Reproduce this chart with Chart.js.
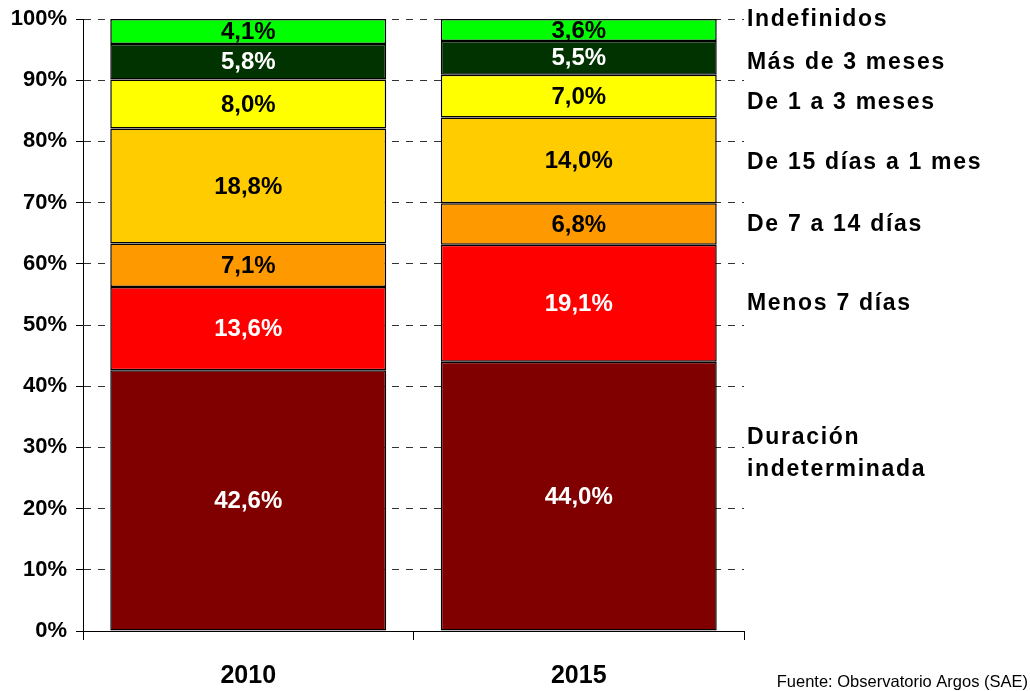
<!DOCTYPE html>
<html lang="es">
<head>
<meta charset="utf-8">
<title>Duración de los contratos 2010 - 2015</title>
<script src="https://cdn.jsdelivr.net/npm/chart.js@4.4.1/dist/chart.umd.min.js"></script>
<style>
  html, body { margin: 0; padding: 0; background: #fff; }
</style>
</head>
<body>
<canvas id="chart" width="1030" height="691"></canvas>
<script>
/* ── Data ─────────────────────────────────────────────── */
const YEARS = ['2010', '2015'];

const DURACION_INDETERMINADA = [42.6, 44.0];
const MENOS_7_DIAS           = [13.6, 19.1];
const DE_7_A_14_DIAS         = [7.1, 6.8];
const DE_15_DIAS_A_1_MES     = [18.8, 14.0];
const DE_1_A_3_MESES         = [8.0, 7.0];
const MAS_DE_3_MESES         = [5.8, 5.5];
const INDEFINIDOS            = [4.1, 3.6];

const Y_TICKS = [0, 10, 20, 30, 40, 50, 60, 70, 80, 90, 100];
const SOURCE  = 'Fuente: Observatorio Argos (SAE)';

/* ── Defaults ─────────────────────────────────────────── */
const FONT = "'Liberation Sans', Arial, sans-serif";
Chart.defaults.font.family = FONT;
Chart.defaults.color = '#000';

/* series: data, name lines, fill, label colour */
const SERIES = [
  { data: DURACION_INDETERMINADA, name: ['Duración', 'indeterminada'], bg: '#800000', fg: '#fff' },
  { data: MENOS_7_DIAS,           name: ['Menos 7 días'],              bg: '#ff0000', fg: '#fff' },
  { data: DE_7_A_14_DIAS,         name: ['De 7 a 14 días'],            bg: '#ff9900', fg: '#000' },
  { data: DE_15_DIAS_A_1_MES,     name: ['De 15 días a 1 mes'],        bg: '#ffcc00', fg: '#000' },
  { data: DE_1_A_3_MESES,         name: ['De 1 a 3 meses'],            bg: '#ffff00', fg: '#000' },
  { data: MAS_DE_3_MESES,         name: ['Más de 3 meses'],            bg: '#003300', fg: '#fff' },
  { data: INDEFINIDOS,            name: ['Indefinidos'],               bg: '#00ff00', fg: '#000' },
];

const fmt = v => v.toFixed(1).replace('.', ',') + '%';

/* Value labels in the middle of each segment */
const segmentLabels = {
  id: 'segmentLabels',
  afterDatasetsDraw(chart, args, opts) {
    const { ctx } = chart;
    ctx.save();
    ctx.font = opts.font;
    ctx.textAlign = 'center';
    ctx.textBaseline = 'middle';
    chart.data.datasets.forEach((ds, di) => {
      chart.getDatasetMeta(di).data.forEach((bar, i) => {
        const { x, y, base } = bar.getProps(['x', 'y', 'base'], true);
        ctx.fillStyle = ds.labelColor;
        ctx.fillText(fmt(ds.data[i]), x, (y + base) / 2 + 1);
      });
    });
    ctx.restore();
  },
};

/* Series names to the right of the last bar + source note */
const seriesNames = {
  id: 'seriesNames',
  afterDraw(chart, args, opts) {
    const { ctx, chartArea } = chart;
    const last = chart.data.labels.length - 1;
    ctx.save();
    ctx.font = opts.font;
    ctx.letterSpacing = opts.spacing;
    ctx.fillStyle = '#000';
    ctx.textAlign = 'left';
    ctx.textBaseline = 'middle';
    chart.data.datasets.forEach((ds, di) => {
      const { y, base } = chart.getDatasetMeta(di).data[last].getProps(['y', 'base'], true);
      const lines = ds.nameLines;
      const cy = (y + base) / 2 + (opts.nudge[di] || 0);
      lines.forEach((ln, k) => {
        ctx.fillText(ln, chartArea.right + 3, cy + (k - (lines.length - 1) / 2) * opts.lineHeight);
      });
    });
    ctx.letterSpacing = '0px';
    ctx.font = opts.sourceFont;
    ctx.textAlign = 'right';
    ctx.textBaseline = 'alphabetic';
    ctx.fillText(SOURCE, chart.width - 2, chart.height - 4);
    ctx.restore();
  },
};

new Chart(document.getElementById('chart'), {
  type: 'bar',
  data: {
    labels: YEARS,
    datasets: SERIES.map(s => ({
      label: s.name.join(' '),
      nameLines: s.name,
      labelColor: s.fg,
      data: s.data,
      backgroundColor: s.bg,
      borderColor: '#000',
      borderWidth: 1.5,
      borderSkipped: false,
      barPercentage: 0.835,
      categoryPercentage: 1,
    })),
  },
  plugins: [segmentLabels, seriesNames],
  options: {
    responsive: false,
    animation: false,
    layout: { padding: { top: 19, right: 286, left: 0, bottom: 0 } },
    plugins: {
      legend: { display: false },
      tooltip: { enabled: false },
      segmentLabels: { font: `bold 24px ${FONT}` },
      seriesNames: {
        font: `bold 23px ${FONT}`,
        spacing: '1.7px',
        lineHeight: 32,
        nudge: [-42, 0, 1, 2, 7, 5, -10],
        sourceFont: `16.5px ${FONT}`,
      },
    },
    scales: {
      x: {
        stacked: true,
        grid: {
          display: true, drawOnChartArea: false, offset: true,
          tickLength: 9, tickColor: '#000', color: '#000',
        },
        border: { display: true, color: '#000', width: 1 },
        ticks: { color: '#000', padding: 21, font: { size: 25, weight: 'bold' } },
        afterFit: s => { s.height = 60; },
      },
      y: {
        stacked: true,
        min: 0, max: 100,
        afterBuildTicks: s => { s.ticks = Y_TICKS.map(v => ({ value: v })); },
        grid: {
          color: c => (c.tick && c.tick.value === 0 ? 'rgba(0,0,0,0)' : '#333'),
          tickColor: '#000', tickLength: 7,
          borderDash: [7, 7], tickBorderDash: [],
        },
        border: { display: true, color: '#000', width: 1, dash: [7, 7] },
        ticks: {
          color: '#000', padding: 9,
          font: { size: 22, weight: 'bold' },
          callback: v => v + '%',
        },
        afterFit: s => { s.width = 83; s.paddingTop = 0; s.paddingBottom = 0; },
      },
    },
  },
});
</script>
</body>
</html>
